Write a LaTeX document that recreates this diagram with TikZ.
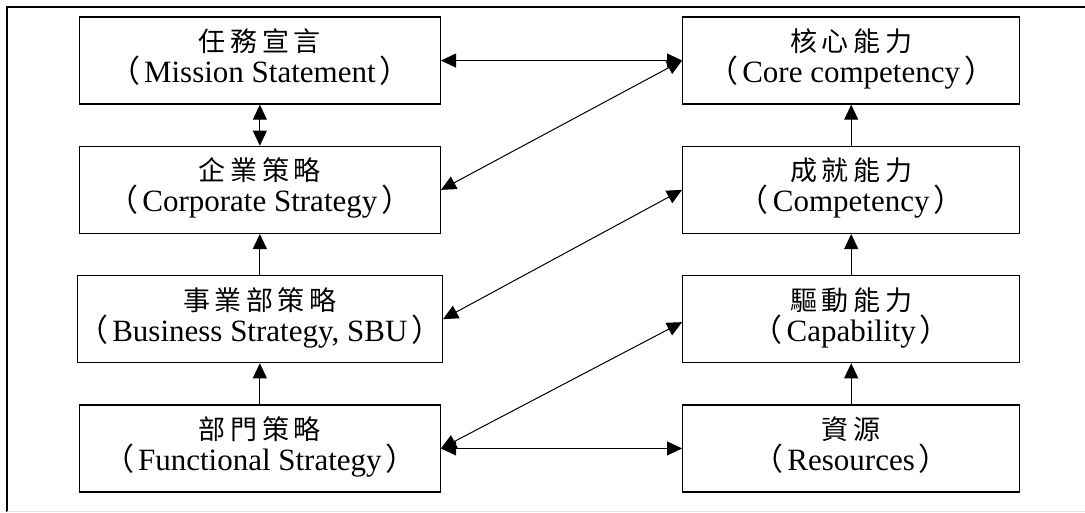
\documentclass[tikz,border=0pt]{standalone}
\usepackage{fontspec}
\setmainfont{Liberation Serif}
\newfontfamily\zhfont[LetterSpace=17]{Noto Sans CJK TC}
\newfontfamily\zhparen{Noto Sans CJK TC}
\newcommand\zh[1]{{\fontsize{13.5pt}{15pt}\zhfont #1}}
\newcommand\pa[1]{{\zhparen （}\kern2pt#1\kern2pt{\zhparen ）}\rule[-5pt]{0pt}{0pt}}
\usetikzlibrary{arrows.meta}
\begin{document}
\begin{tikzpicture}[>={Triangle[length=7.5pt,width=7pt]},
  lbox/.style={draw, shape=rectangle, line width=0.65pt, minimum width=180.5pt,
    minimum height=43.5pt, inner sep=0pt, align=center,
    font=\fontsize{15.5pt}{15.5pt}\selectfont},
  rbox/.style={lbox, minimum width=168.5pt}]
\useasboundingbox (0,0) rectangle (542.5pt,-256.5pt);
\draw[line width=0.6pt] (560pt,-3.5pt) -- (3.5pt,-3.5pt) -- (3.5pt,-255.8pt);
\draw[gray!20, line width=0.6pt] (3.5pt,-255.8pt) -- (560pt,-255.8pt);
\matrix at (274.25pt,-127.25pt) [column sep=119.5pt, row sep=20.5pt] {
  \node (ms) [lbox] {\zh{任務宣言}\\\pa{Mission Statement}}; &
  \node (cc) [rbox] {\zh{核心能力}\\\pa{Core competency}}; \\
  \node (cs) [lbox] {\zh{企業策略}\\\pa{Corporate Strategy}}; &
  \node (cp) [rbox] {\zh{成就能力}\\\pa{Competency}}; \\
  \node (bs) [lbox] {\zh{事業部策略}\\\pa{Business Strategy, SBU}}; &
  \node (cb) [rbox] {\zh{驅動能力}\\\pa{Capability}}; \\
  \node (fs) [lbox] {\zh{部門策略}\\\pa{Functional Strategy}}; &
  \node (rs) [rbox] {\zh{資源}\\\pa{Resources}}; \\
};
\draw[<->, line width=0.5pt] (ms) -- (cc);
\draw[<->, line width=0.5pt] (ms) -- (cs);
\draw[->, line width=0.5pt] (bs) -- (cs);
\draw[->, line width=0.5pt] (fs) -- (bs);
\draw[->, line width=0.5pt] (cp) -- (cc);
\draw[->, line width=0.5pt] (cb) -- (cp);
\draw[->, line width=0.5pt] (rs) -- (cb);
\draw[<->, line width=0.5pt] (cs.east) -- (cc.west);
\draw[<->, line width=0.5pt] (bs.east) -- (cp.west);
\draw[<->, line width=0.5pt] (fs.east) -- ([yshift=-1.5pt]cb.west);
\draw[<->, line width=0.5pt] (fs) -- (rs);
\end{tikzpicture}
\end{document}
